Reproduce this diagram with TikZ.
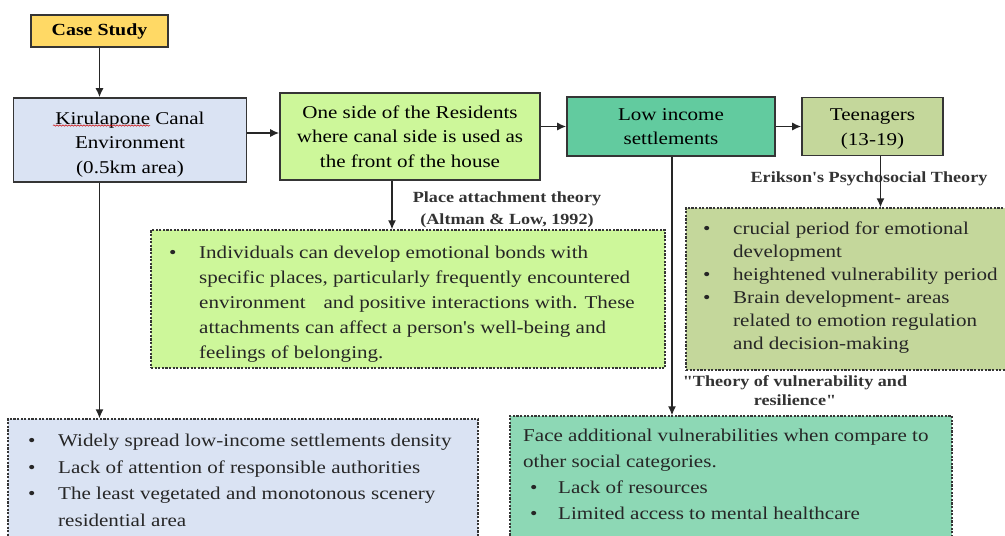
\documentclass[tikz,border=0pt]{standalone}
\usepackage{fontspec}
\setmainfont{Liberation Serif}[FakeStretch=1.17,Ligatures=TeXOff]
\usetikzlibrary{arrows.meta,decorations.pathmorphing}
\definecolor{boxline}{HTML}{353535}
\definecolor{arrowcol}{HTML}{262626}
\definecolor{labelcol}{HTML}{333333}
\definecolor{csfill}{HTML}{FFD965}
\definecolor{bluefill}{HTML}{DAE3F3}
\definecolor{limefill}{HTML}{CDF79A}
\definecolor{tealfill}{HTML}{62CB9F}
\definecolor{olivefill}{HTML}{C4D79B}
\definecolor{mintfill}{HTML}{8DD8B5}
\begin{document}
\begin{tikzpicture}[x=1pt,y=-1pt,
  solidbox/.style={draw=boxline,line width=1.6pt,inner sep=0pt,align=center,
    font=\fontsize{18}{24.5}\selectfont},
  dashbox/.style={draw=boxline,line width=1.3pt,dash pattern=on 2.2pt off 1.4pt,inner sep=0pt},
  arr/.style={draw=arrowcol,line width=1.4pt,-{Latex[length=9pt,width=8pt]}},
  theory/.style={font=\fontsize{15.5}{22}\bfseries\selectfont,align=center,text=labelcol,inner sep=0pt},
  listtext/.style={anchor=north west,inner sep=0pt,align=left,text=black!85}
]
\useasboundingbox (0,0) rectangle (1005,536);
\clip (0,0) rectangle (1005,536);
\fill[white] (0,0) rectangle (1005,536);

% top row of solid boxes
\node[solidbox,fill=csfill,minimum width=137pt,minimum height=32pt,font=\fontsize{17}{22}\selectfont]
  (cs) at (99.5,31) {\textbf{Case Study}};
\node[solidbox,fill=bluefill,minimum width=233pt,minimum height=84pt] (kir) at (130,140)
  {\rule{0pt}{21pt}Kirulapone Canal\\Environment\\(0.5km area)};
\draw[red!80!black,line width=0.5pt,decorate,decoration={snake,amplitude=0.7pt,segment length=3pt}]
  (53,125.5) -- (150,125.5);
\node[solidbox,fill=limefill,minimum width=260pt,minimum height=87pt] (one) at (410,136.5)
  {One side of the Residents\\where canal side is used as\\the front of the house};
\node[solidbox,fill=tealfill,minimum width=208pt,minimum height=59pt] (low) at (671,126.5)
  {Low income\\settlements};
\node[solidbox,fill=olivefill,minimum width=141pt,minimum height=58pt] (teen) at (872.5,126.5)
  {\rule{0pt}{17pt}Teenagers\\(13-19)};

% dashed content boxes
\node[dashbox,fill=olivefill,minimum width=326pt,minimum height=162pt] (erk) at (849,289) {};
\node[dashbox,fill=limefill,minimum width=514pt,minimum height=138pt] (place) at (408,299) {};
\node[dashbox,fill=bluefill,minimum width=470pt,minimum height=126pt] (bl) at (243,482) {};
\node[dashbox,fill=mintfill,minimum width=442pt,minimum height=129pt] (br) at (731,480.5) {};

% list texts
\node[listtext,font=\fontsize{18}{25}\selectfont] (placetxt) at (169,240.5) {%
\begin{tabular}{@{}p{30pt}@{}l@{}}
\textbullet & Individuals can develop emotional bonds with\\
& specific places, particularly frequently encountered\\
& environment\quad and positive interactions with. These\\
& attachments can affect a person's well-being and\\
& feelings of belonging.
\end{tabular}};

\node[listtext,font=\fontsize{18}{23}\selectfont] (erktxt) at (703,218.5) {%
\begin{tabular}{@{}p{30pt}@{}l@{}}
\textbullet & crucial period for emotional\\
& development\\
\textbullet & heightened vulnerability period\\
\textbullet & Brain development- areas\\
& related to emotion regulation\\
& and decision-making
\end{tabular}};

\node[listtext,font=\fontsize{18}{26.5}\selectfont] (bltxt) at (28,428) {%
\begin{tabular}{@{}p{30pt}@{}l@{}}
\textbullet & Widely spread low-income settlements density\\
\textbullet & Lack of attention of responsible authorities\\
\textbullet & The least vegetated and monotonous scenery\\
& residential area
\end{tabular}};

\node[listtext,font=\fontsize{18}{26}\selectfont] (brtxt) at (523,423.5) {%
\begin{tabular}{@{}p{35pt}@{}l@{}}
\multicolumn{2}{@{}l@{}}{Face additional vulnerabilities when compare to}\\
\multicolumn{2}{@{}l@{}}{other social categories.}\\
\hspace*{7pt}\textbullet & Lack of resources\\
\hspace*{7pt}\textbullet & Limited access to mental healthcare
\end{tabular}};

% theory labels
\node[theory] (placelbl) at (507,210) {Place attachment theory\\(Altman \& Low, 1992)};
\node[theory] (erklbl) at (869,179) {Erikson's Psychosocial Theory};
\node[theory,fill=white,minimum width=280pt,minimum height=40pt,font=\fontsize{15.5}{19}\bfseries\selectfont]
  (vulnlbl) at (795,391) {"Theory of vulnerability and\\resilience"};

% connectors
\draw[arr] (cs.south) -- (cs.south |- kir.north);
\draw[arr] (cs.south |- kir.south) -- (cs.south |- bl.north);
\draw[arr] ([yshift=7pt]kir.east) -- ([yshift=7pt]kir.east -| one.west);
\draw[arr] (one.east |- low.west) -- (low.west);
\draw[arr] (low.east) -- (low.east -| teen.west);
\draw[arr] ([xshift=-18pt]one.south) -- ([xshift=-18pt]one.south |- place.north);
\draw[arr] ([xshift=1pt]low.south) -- ([xshift=1pt]low.south |- br.north);
\draw[arr] ([xshift=8pt]teen.south) -- ([xshift=8pt]teen.south |- erk.north);
\end{tikzpicture}
\end{document}
